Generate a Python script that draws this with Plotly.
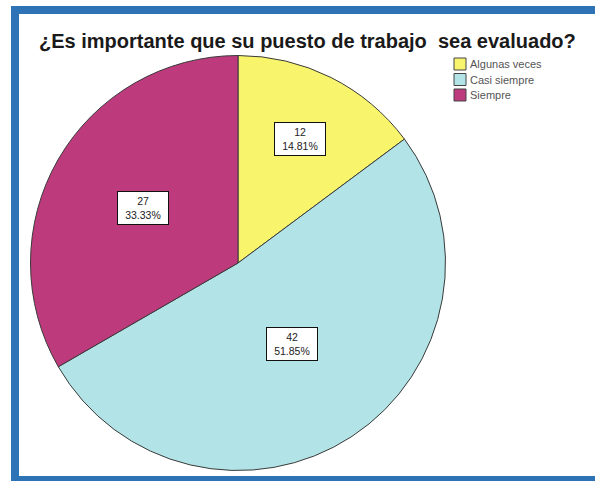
import math
import plotly.graph_objects as go

# Survey answers and counts
categories = ["Algunas veces", "Casi siempre", "Siempre"]
counts = [12, 42, 27]
percent_labels = ["14.81%", "51.85%", "33.33%"]
slice_colors = ["#F8F56C", "#B2E3E6", "#BD3B7D"]

title_text = "¿Es importante que su puesto de trabajo \u00a0sea evaluado?"

W, H = 595, 481
CX, CY, R = 238.0, 263.0, 207.5  # pie centre/radius in pixels (top-down)

fig = go.Figure()
fig.add_trace(go.Pie(
    labels=categories,
    values=counts,
    sort=False,
    direction="clockwise",
    rotation=0,
    marker=dict(colors=slice_colors, line=dict(color="#3a3a3a", width=1)),
    textinfo="none",
    hoverinfo="label+value+percent",
    showlegend=False,
    domain=dict(x=[(CX - R) / W, (CX + R) / W],
                y=[(H - CY - R) / H, (H - CY + R) / H]),
))

annotations = []
shapes = []

# Value / percent boxes placed along each slice's middle angle
label_radius = [0.67, 0.47, 0.53]
total = sum(counts)
before = 0
for i, v in enumerate(counts):
    theta = 2 * math.pi * (before + v / 2) / total
    before += v
    px = CX + R * label_radius[i] * math.sin(theta)
    py = CY - R * label_radius[i] * math.cos(theta)
    annotations.append(dict(
        x=px / W, y=1 - py / H, xref="paper", yref="paper",
        xanchor="center", yanchor="middle",
        text=f"{v}<br>{percent_labels[i]}", showarrow=False,
        font=dict(family="Liberation Sans, Arial", size=10.5, color="#222"),
        bgcolor="white", bordercolor="#111", borderwidth=1, borderpad=2,
        width=46, height=28, align="center",
    ))

# Title
annotations.append(dict(
    x=307 / W, y=1 - 41 / H, xref="paper", yref="paper",
    text=f"<b>{title_text}</b>", showarrow=False,
    font=dict(family="Liberation Sans, Arial", size=20, color="#1a1a1a"),
    xanchor="center", yanchor="middle",
))

# Legend drawn as swatches + labels
leg_x0, leg_y0, leg_dy, sw = 454, 58, 15.5, 12
for i, name in enumerate(categories):
    y0 = leg_y0 + i * leg_dy
    shapes.append(dict(
        type="rect", xref="paper", yref="paper",
        x0=leg_x0 / W, x1=(leg_x0 + sw) / W,
        y0=1 - y0 / H, y1=1 - (y0 + sw) / H,
        fillcolor=slice_colors[i], line=dict(color="#444", width=1),
    ))
    annotations.append(dict(
        x=(leg_x0 + sw + 2) / W, y=1 - (y0 + sw / 2) / H,
        xref="paper", yref="paper", text=name, showarrow=False,
        xanchor="left", yanchor="middle",
        font=dict(family="Liberation Sans, Arial", size=11, color="#555"),
    ))

# Blue frame (left, top, bottom)
frame = "#2E73B6"
for x0, y0, x1, y1 in [(11, 6, 19, 480), (11, 6, 595, 14), (11, 476, 595, 481)]:
    shapes.append(dict(
        type="rect", xref="paper", yref="paper",
        x0=x0 / W, x1=x1 / W, y0=1 - y0 / H, y1=1 - y1 / H,
        fillcolor=frame, line=dict(width=0), layer="above",
    ))

fig.update_layout(
    width=W, height=H,
    margin=dict(l=0, r=0, t=0, b=0),
    paper_bgcolor="white", plot_bgcolor="white",
    annotations=annotations, shapes=shapes,
    showlegend=False,
)

fig.write_html("out.html")
